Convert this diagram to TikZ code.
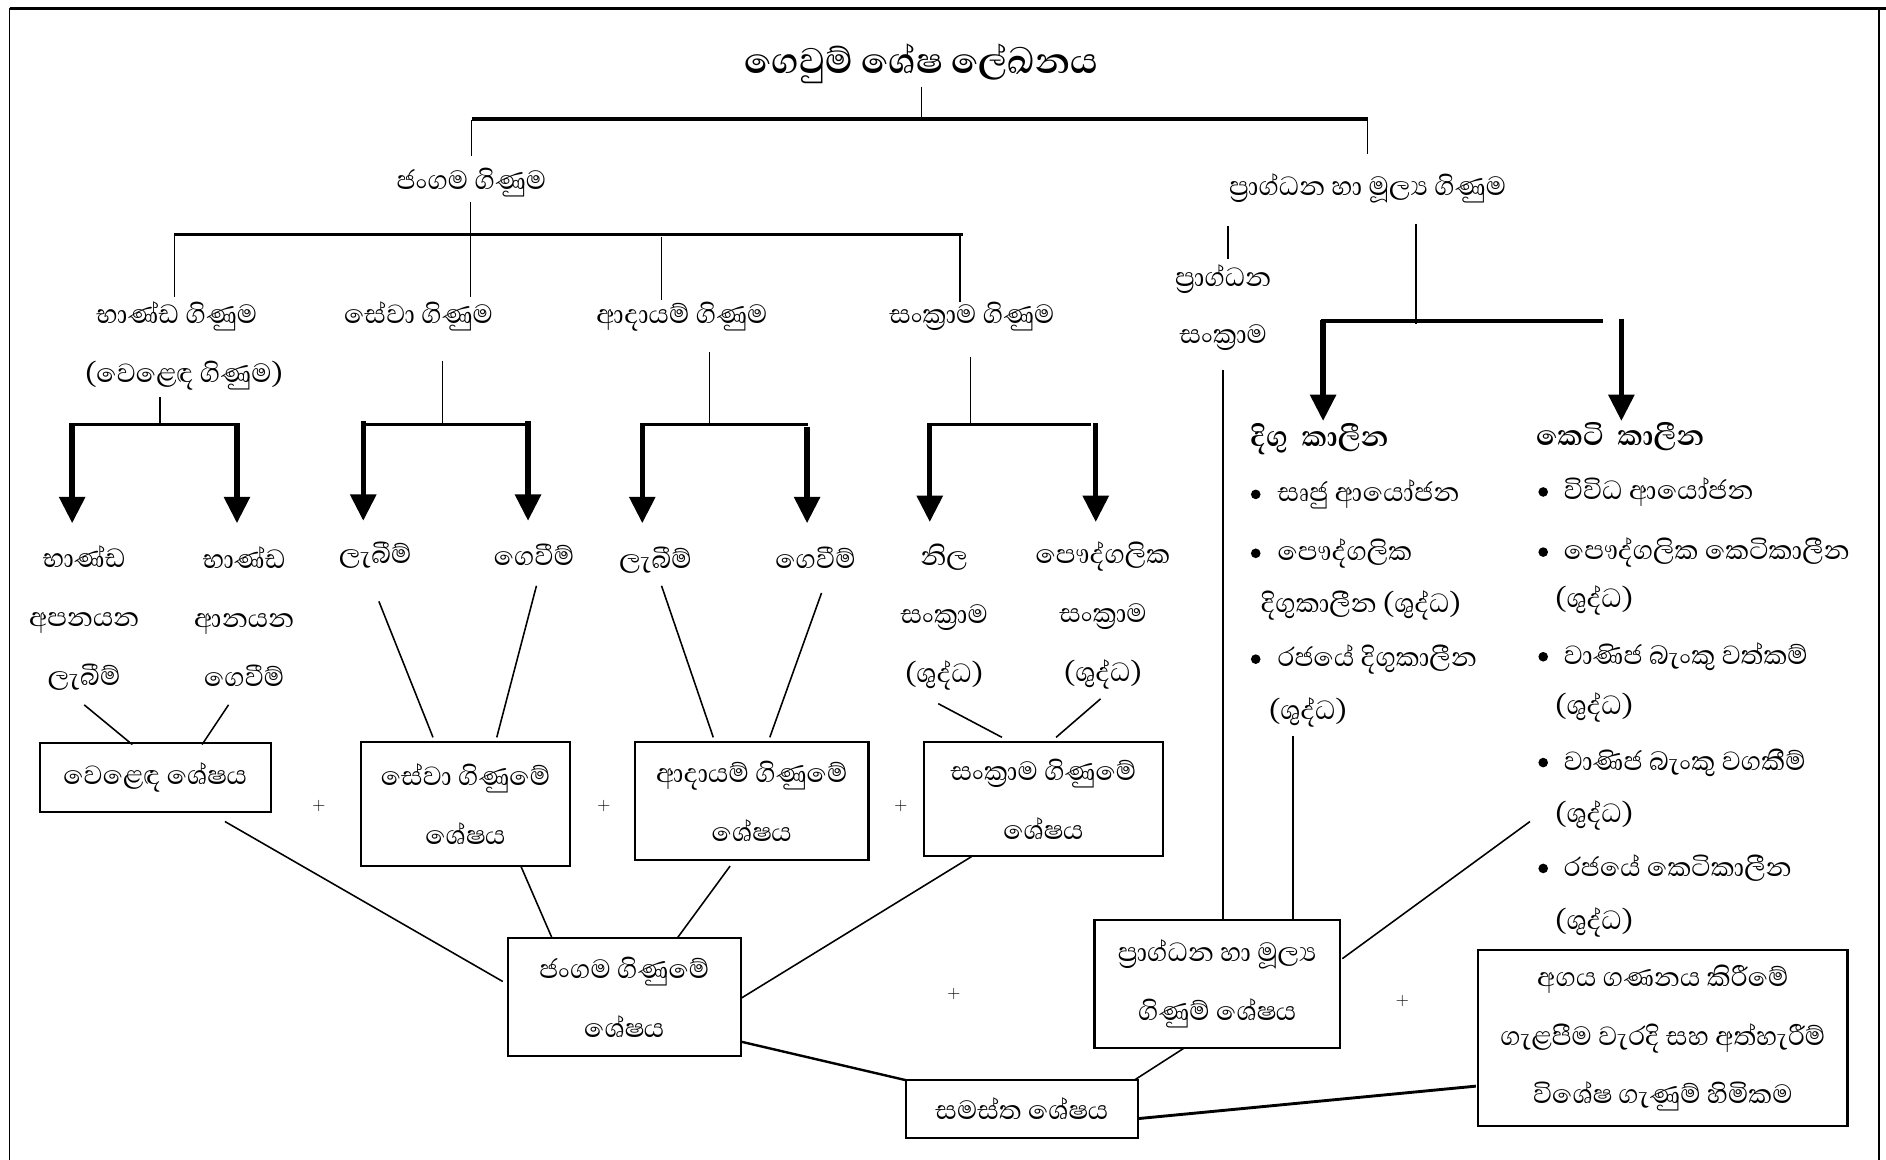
\documentclass[tikz,border=0pt]{standalone}
\usepackage{fontspec}
\newfontfamily\sinhfont[Script=Sinhala]{Abhaya Libre}
\usetikzlibrary{arrows.meta,calc}
\begin{document}
\begin{tikzpicture}[x=1pt,y=-1pt,
  lbl/.style={font=\sinhfont\fontsize{28}{49}\selectfont, inner sep=0pt, align=center},
  lbll/.style={font=\sinhfont\fontsize{28}{49}\selectfont, inner sep=0pt, anchor=west},
  hd/.style={font=\sinhfont\bfseries\fontsize{30}{36}\selectfont, inner sep=0pt},
  ttl/.style={font=\sinhfont\bfseries\fontsize{38}{44}\selectfont, inner sep=0pt},
  box/.style={draw, line width=1.8pt, inner sep=0pt, align=center, font=\sinhfont\fontsize{28}{49}\selectfont},
  plus/.style={font=\fontsize{15}{18}\selectfont, inner sep=0pt},
  bul/.style={circle, fill, inner sep=0pt, minimum size=8pt},
  ln/.style={line width=1.3pt},
  bar/.style={line width=3pt},
  mbar/.style={line width=2.4pt},
  bigarrow/.style={line width=4.5pt, -{Triangle[width=21pt,length=22pt]}}
]
\useasboundingbox (0,0) rectangle (1568,964);
% frame
\draw[line width=2pt] (8,7) -- (1568,7);
\draw[line width=1.2pt] (8,7) -- (8,964);
\draw[line width=1.2pt] (1562,7) -- (1562,964);

% title and level 1
\node[ttl] (title) at (766,53) {ගෙවුම් ශේෂ ලේඛනය};
\node[lbl] (jang) at (392,152) {ජංගම ගිණුම};
\node[lbl] (prag) at (1137,157) {ප්‍රාග්ධන හා මූල්‍ය ගිණුම};
\coordinate (t0) at (766,72);
\coordinate (tb) at (766,99);
\coordinate (tL) at (392,99);
\coordinate (tR) at (1137,99);
\draw[ln] (t0) -- (tb);
\draw[bar] (tL) -- (tR);
\draw[ln] (392,100) -- (392,130);
\draw[ln] (1137,100) -- (1137,128);

% level 2 (current account)
\node[lbl] (bhan) at (147,263) {භාණ්ඩ ගිණුම};
\node[lbl] (wel) at (153,312) {(වෙළෙඳ ගිණුම)};
\node[lbl] (sewa) at (348,263) {සේවා ගිණුම};
\node[lbl] (aday) at (567,263) {ආදායම් ගිණුම};
\node[lbl] (sank) at (808,263) {සංක්‍රාම ගිණුම};
\draw[ln] (391,168) -- (391,247);
\draw[bar] (145,195) -- (801,195);
\draw[ln] (145,196) -- (145,247);
\draw[ln] (550,197) -- (550,249);
\draw[ln] (798,196) -- (798,251);

% brackets with arrows
\draw[ln] (133,330) -- (133,353);
\draw[mbar] (58,353) -- (199,353);
\draw[bigarrow] (60,352) -- (60,435);
\draw[bigarrow] (197,352) -- (197,435);

\draw[ln] (368,300) -- (368,353);
\draw[mbar] (300,353) -- (441,353);
\draw[bigarrow] (302,350) -- (302,433);
\draw[bigarrow] (439,350) -- (439,433);

\draw[ln] (590,293) -- (590,353);
\draw[mbar] (532,353) -- (672,353);
\draw[bigarrow] (534,352) -- (534,435);
\draw[bigarrow] (671,355) -- (671,435);

\draw[ln] (807,297) -- (807,353);
\draw[mbar] (771,353) -- (907,353);
\draw[bigarrow] (773,352) -- (773,434);
\draw[bigarrow] (911,352) -- (911,434);

% leaf labels
\node[lbl] (g1a) at (70,514) {භාණ්ඩ\\අපනයන\\ලැබීම්};
\node[lbl] (g1b) at (203,513) {භාණ්ඩ\\ආනයන\\ගෙවීම්};
\node[lbl] (g2a) at (312,462) {ලැබීම්};
\node[lbl] (g2b) at (444,461) {ගෙවීම්};
\node[lbl] (g3a) at (545,466) {ලැබීම්};
\node[lbl] (g3b) at (678,464) {ගෙවීම්};
\node[lbl] (g4a) at (785,513) {නිල\\සංක්‍රාම\\(ශුද්ධ)};
\node[lbl] (g4b) at (917,512) {පෞද්ගලික\\සංක්‍රාම\\(ශුද්ධ)};

% boxes
\node[box, minimum width=192pt, minimum height=57pt] (B1) at (129,646.5) {වෙළෙඳ ශේෂය};
\node[box, minimum width=174pt, minimum height=103pt] (B2) at (387,668.5) {සේවා ගිණුමේ\\ශේෂය};
\node[box, minimum width=194pt, minimum height=98pt] (B3) at (625,666) {ආදායම් ගිණුමේ\\ශේෂය};
\node[box, minimum width=199pt, minimum height=95pt] (B4) at (867.5,664.5) {සංක්‍රාම ගිණුමේ\\ශේෂය};
\node[box, minimum width=194pt, minimum height=98pt] (B5) at (519,829) {ජංගම ගිණුමේ\\ශේෂය};
\node[box, minimum width=204pt, minimum height=106pt] (B6) at (1012,818) {ප්‍රාග්ධන හා මූල්‍ය\\ගිණුම් ශේෂය};
\node[box, minimum width=193pt, minimum height=48pt] (B7) at (849.5,922) {සමස්ත ශේෂය};
\node[box, minimum width=307pt, minimum height=146pt] (B8) at (1382.5,863) {අගය ගණනය කිරීමේ\\ගැළපීම වැරදි සහ අත්හැරීම්\\විශේෂ ගැණුම් හිමිකම};

% plus signs
\node[plus] (p1) at (265,670) {+};
\node[plus] (p2) at (502,670) {+};
\node[plus] (p3) at (749,670) {+};
\node[plus] (p4) at (793,826) {+};
\node[plus] (p5) at (1166,832) {+};

% connectors leaf -> box
\draw[ln] (70,586) -- (110,619);
\draw[ln] (190,586) -- (168,619);
\draw[ln] (315,500) -- (360,613);
\draw[ln] (446,487) -- (413,613);
\draw[ln] (550,487) -- (593,613);
\draw[ln] (683,493) -- (640,613);
\draw[ln] (780,585) -- (833,613);
\draw[ln] (915,581) -- (878,613);

% boxes -> current account box
\draw[ln] (187,683) -- (418,816);
\draw[ln] (433,720) -- (459,780);
\draw[ln] (607,720) -- (563,780);
\draw[ln] (808,712) -- (616,830);

% boxes -> overall
\draw[line width=2pt] (616,866) -- (753,898);
\draw[ln] (985,871) -- (943,898);
\draw[line width=2.4pt] (946,930) -- (1227,903);

% capital account side
\node[lbl] (pr2) at (1017,232) {ප්‍රාග්ධන};
\node[lbl] (sk2) at (1017,281) {සංක්‍රාම};
\draw[ln] (1021,188) -- (1021,215);
\draw[ln] (1177,186) -- (1177,269);
\draw[bar] (1098,267) -- (1333,267);
\draw[bigarrow] (1100,266) -- (1100,350);
\draw[bigarrow] (1348,265) -- (1348,350);
\draw[ln] (1017,308) -- (1017,765);
\draw[ln] (1075,612) -- (1075,766);
\draw[ln] (1272,683) -- (1116,797);

\node[hd] (digu) at (1097,365) {දිගු\ \ කාලීන};
\node[hd] (keti) at (1347,363) {කෙටි\ \ කාලීන};

\node[bul] (lb1) at (1044,411) {};
\node[bul] (lb2) at (1044,460) {};
\node[bul] (lb3) at (1044,548) {};
\node[lbll] (l1) at (1062,411) {සෘජු ආයෝජන};
\node[lbll] (l2) at (1062,460) {පෞද්ගලික};
\node[lbll] (l2b) at (1048,503) {දිගුකාලීන (ශුද්ධ)};
\node[lbll] (l3) at (1062,548) {රජයේ දිගුකාලීන};
\node[lbll] (l3b) at (1055,592) {(ශුද්ධ)};

\node[bul] (sb1) at (1283,409) {};
\node[bul] (sb2) at (1283,459) {};
\node[bul] (sb3) at (1283,546) {};
\node[bul] (sb4) at (1283,634) {};
\node[bul] (sb5) at (1283,722) {};
\node[lbll] (s1) at (1300,409) {විවිධ ආයෝජන};
\node[lbll] (s2) at (1300,459) {පෞද්ගලික කෙටිකාලීන};
\node[lbll] (s2b) at (1293,499) {(ශුද්ධ)};
\node[lbll] (s3) at (1300,546) {වාණිජ බැංකු වත්කම්};
\node[lbll] (s3b) at (1293,588) {(ශුද්ධ)};
\node[lbll] (s4) at (1300,634) {වාණිජ බැංකු වගකීම්};
\node[lbll] (s4b) at (1293,678) {(ශුද්ධ)};
\node[lbll] (s5) at (1300,722) {රජයේ කෙටිකාලීන};
\node[lbll] (s5b) at (1293,767) {(ශුද්ධ)};
\end{tikzpicture}
\end{document}
